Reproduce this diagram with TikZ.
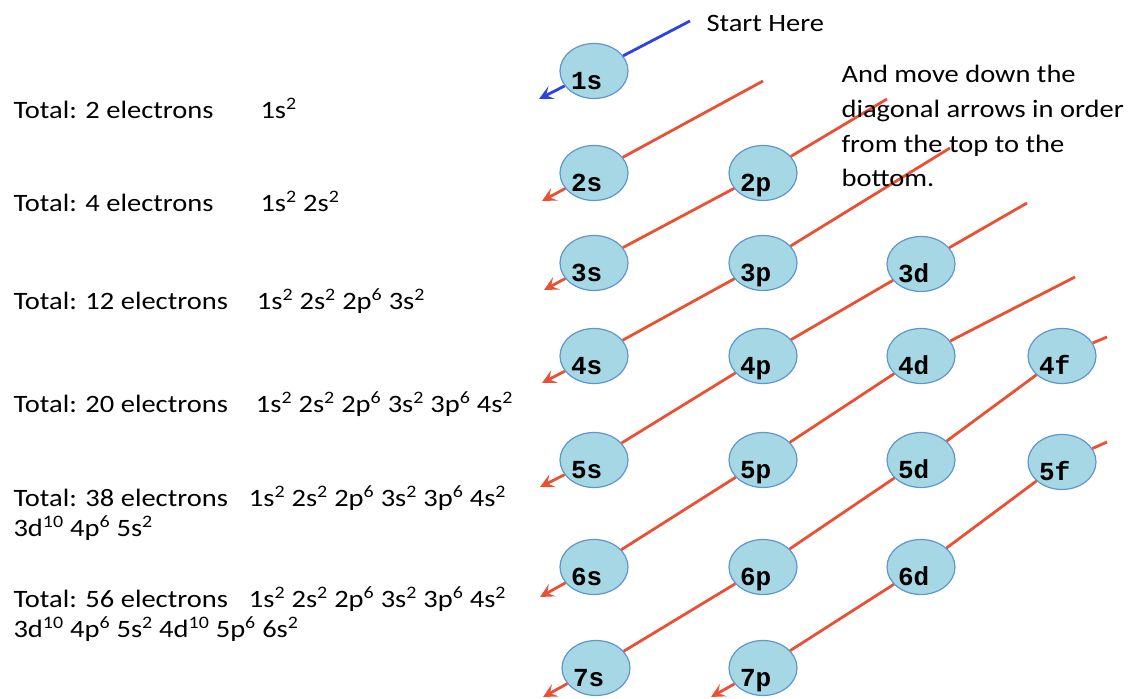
\documentclass[tikz,border=0pt]{standalone}
\usepackage{fontspec}
\newfontfamily\calib{Carlito}[FakeStretch=1.14]
\newfontfamily\orbfont{Liberation Mono}
\usetikzlibrary{arrows.meta, shapes.geometric, calc}
\usepackage{xcolor}
\definecolor{orbfill}{RGB}{166,215,228}
\definecolor{orbline}{RGB}{95,150,205}
\definecolor{diagred}{RGB}{234,80,52}
\definecolor{startblue}{RGB}{45,65,230}
\newcommand{\shell}[2]{#1\textsuperscript{#2}}

\begin{document}
\begin{tikzpicture}[
  x=1pt, y=1pt,
  orb/.style={ellipse, draw=orbline, line width=1.2pt, fill=orbfill, minimum width=68pt, minimum height=55pt, inner sep=0pt, text width=46pt, align=left, text height=37pt, text depth=0pt, font=\orbfont\bfseries\fontsize{26}{26}\selectfont},
  total/.style={anchor=base west, align=left, font=\calib\fontsize{25}{30}\selectfont},
  note/.style={anchor=base west, align=left, font=\calib\fontsize{25}{34.7}\selectfont},
  diag/.style={draw=diagred, line width=2.8pt, -{Stealth[length=14pt, width=14pt, inset=6pt]}},
  first/.style={diag, draw=startblue}
]
\useasboundingbox (0,0) rectangle (1131,698);
\fill[white] (0,0) rectangle (1131,698);

\node[orb] (1s) at (594,627) {1s};
\node[orb] (2s) at (594,525) {2s};
\node[orb] (2p) at (763,525) {2p};
\node[orb] (3s) at (594,435) {3s};
\node[orb] (3p) at (763,435) {3p};
\node[orb] (3d) at (921,434) {3d};
\node[orb] (4s) at (594,342) {4s};
\node[orb] (4p) at (763,342) {4p};
\node[orb] (4d) at (921,342) {4d};
\node[orb] (4f) at (1062,342) {4f};
\node[orb] (5s) at (594,238) {5s};
\node[orb] (5p) at (763,238) {5p};
\node[orb] (5d) at (921,238) {5d};
\node[orb] (5f) at (1062,236) {5f};
\node[orb] (6s) at (594,131) {6s};
\node[orb] (6p) at (763,131) {6p};
\node[orb] (6d) at (921,131) {6d};
\node[orb] (7s) at (596,30) {7s};
\node[orb] (7p) at (763,30) {7p};

\coordinate (top1) at (690,677);
\coordinate (top2) at (763,617);
\coordinate (top3) at (887,599);
\coordinate (top4) at (950,550);
\coordinate (top5) at (1027,495);
\coordinate (top6) at (1075,421);
\coordinate (top7) at (1107,361);
\coordinate (top8) at (1107,256);
\coordinate (tip1) at ($(1s)+(-55,-28)$);
\coordinate (tip2) at ($(2s)+(-52,-28)$);
\coordinate (tip3) at ($(3s)+(-50,-27)$);
\coordinate (tip4) at ($(4s)+(-52,-27)$);
\coordinate (tip5) at ($(5s)+(-54,-27)$);
\coordinate (tip6) at ($(6s)+(-54,-30)$);
\coordinate (tip7) at ($(7s)+(-53,-29)$);
\coordinate (tip8) at ($(7p)+(-52,-29)$);

\draw[first] (top1) -- (1s) -- (tip1);
\draw[diag] (top2) -- (2s) -- (tip2);
\draw[diag] (top3) -- (2p) -- (3s) -- (tip3);
\draw[diag] (top4) -- (3p) -- (4s) -- (tip4);
\draw[diag] (top5) -- (3d) -- (4p) -- (5s) -- (tip5);
\draw[diag] (top6) -- (4d) -- (5p) -- (6s) -- (tip6);
\draw[diag] (top7) -- (4f) -- (5d) -- (6p) -- (7s) -- (tip7);
\draw[diag] (top8) -- (5f) -- (6d) -- (7p) -- (tip8);

\node[note] (start) at (703,666) {Start Here};
\node[note] (hint) at (838,511) {And move down the\\diagonal arrows in order\\from the top to the\\bottom.};

\node[total] (total2) at (10,579) {Total: 2 electrons\hspace{47pt}\shell{1s}{2}};
\node[total] (total4) at (10,486) {Total: 4 electrons\hspace{47pt}\shell{1s}{2} \shell{2s}{2}};
\node[total] (total12) at (10,388) {Total: 12 electrons\hspace{29pt}\shell{1s}{2} \shell{2s}{2} \shell{2p}{6} \shell{3s}{2}};
\node[total] (total20) at (10,285) {Total: 20 electrons\hspace{28pt}\shell{1s}{2} \shell{2s}{2} \shell{2p}{6} \shell{3s}{2} \shell{3p}{6} \shell{4s}{2}};
\node[total] (total38) at (10,161) {Total: 38 electrons\hspace{21pt}\shell{1s}{2} \shell{2s}{2} \shell{2p}{6} \shell{3s}{2} \shell{3p}{6} \shell{4s}{2}\\\shell{3d}{10} \shell{4p}{6} \shell{5s}{2}};
\node[total] (total56) at (10,60) {Total: 56 electrons\hspace{21pt}\shell{1s}{2} \shell{2s}{2} \shell{2p}{6} \shell{3s}{2} \shell{3p}{6} \shell{4s}{2}\\\shell{3d}{10} \shell{4p}{6} \shell{5s}{2} \shell{4d}{10} \shell{5p}{6} \shell{6s}{2}};

\end{tikzpicture}
\end{document}
